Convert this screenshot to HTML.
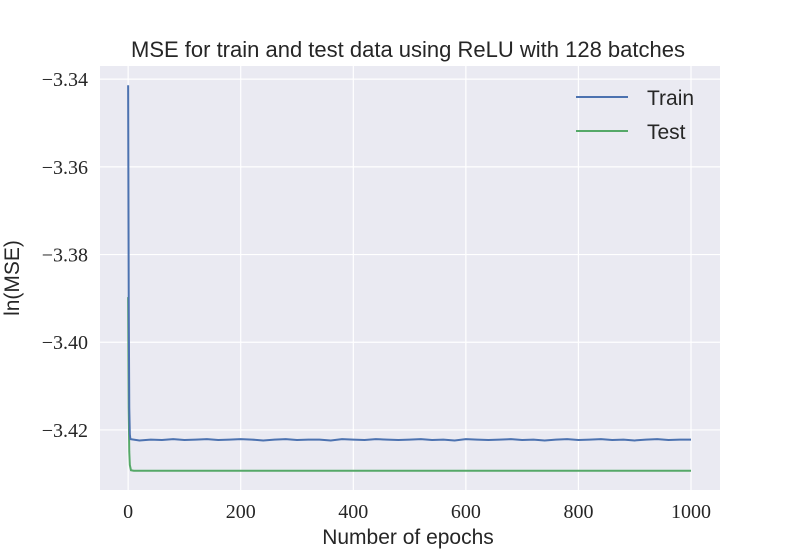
<!DOCTYPE html>
<html><head><meta charset="utf-8"><style>
body{margin:0;background:#fff;}
svg text{font-family:"Liberation Sans",sans-serif;}
.tick{font-family:"Liberation Serif",serif;font-size:20px;fill:#262626;}
</style></head><body>
<svg width="800" height="550" xmlns="http://www.w3.org/2000/svg">
<rect x="100" y="66" width="620" height="424" fill="#eaeaf2"/>
<g id="grid"></g>
<g id="series"></g>
<text x="408" y="57" text-anchor="middle" font-size="22" fill="#262626">MSE for train and test data using ReLU with 128 batches</text>
<text x="408" y="544" text-anchor="middle" font-size="21" fill="#262626">Number of epochs</text>
<text transform="translate(19,278) rotate(-90)" text-anchor="middle" font-size="21" fill="#262626">ln(MSE)</text>
<g>
<line x1="576" y1="97" x2="628" y2="97" stroke="#4c72b0" stroke-width="2"/>
<text x="647" y="105" font-size="21" fill="#262626">Train</text>
<line x1="576" y1="131" x2="628" y2="131" stroke="#55a868" stroke-width="2"/>
<text x="647" y="139" font-size="21" fill="#262626">Test</text>
</g>
</svg>
<script>
const xTicks=[0,200,400,600,800,1000];
const yTicks=[-3.34,-3.36,-3.38,-3.40,-3.42];
const yTickLabels=["\u22123.34","\u22123.36","\u22123.38","\u22123.40","\u22123.42"];
const trainEpochs=[0,1,2,3,4,20,40,60,80,100,120,140,160,180,200,220,240,260,280,300,320,340,360,380,400,420,440,460,480,500,520,540,560,580,600,620,640,660,680,700,720,740,760,780,800,820,840,860,880,900,920,940,960,980,1000];
const trainValues=[-3.3414,-3.39,-3.415,-3.421,-3.4221,-3.4224,-3.4222,-3.4223,-3.4221,-3.4223,-3.4222,-3.4221,-3.4223,-3.4222,-3.4221,-3.4222,-3.4224,-3.4222,-3.4221,-3.4223,-3.4222,-3.4222,-3.4224,-3.4221,-3.4222,-3.4223,-3.4221,-3.4222,-3.4223,-3.4222,-3.4221,-3.4223,-3.4222,-3.4224,-3.4221,-3.4222,-3.4223,-3.4222,-3.4221,-3.4223,-3.4222,-3.4224,-3.4222,-3.4221,-3.4223,-3.4222,-3.4221,-3.4223,-3.4222,-3.4224,-3.4222,-3.4221,-3.4223,-3.4222,-3.4222];
const testEpochs=[0,1,2,3,5,10,1000];
const testValues=[-3.3897,-3.415,-3.425,-3.428,-3.4292,-3.4293,-3.4293];
const NS="http://www.w3.org/2000/svg";
const L=100,R=720,T=66,B=490,xMin=-50,xMax=1051.5,yMin=-3.4337,yMax=-3.3370;
const sx=v=>L+(v-xMin)/(xMax-xMin)*(R-L);
const sy=v=>B-(v-yMin)/(yMax-yMin)*(B-T);
const grid=document.getElementById('grid'),series=document.getElementById('series'),svg=document.querySelector('svg');
function mk(t,a,p){const e=document.createElementNS(NS,t);for(const k in a)e.setAttribute(k,a[k]);p.appendChild(e);return e;}
xTicks.forEach(v=>{
 const l=mk('line',{x1:sx(v),x2:sx(v),y1:T,y2:B,stroke:'#fff','stroke-width':1.2},grid);
 
 
 const t=mk('text',{x:sx(v),y:B+28,'text-anchor':'middle',class:'tick'},svg);
 t.textContent=v;
 
 
});
yTicks.forEach((v,i)=>{
 const l=mk('line',{x1:L,x2:R,y1:sy(v),y2:sy(v),stroke:'#fff','stroke-width':1.2},grid);
 
 
 const t=mk('text',{x:L-12,y:sy(v)+7,'text-anchor':'end',class:'tick'},svg);
 t.textContent=yTickLabels[i];
 
 
});
function line(xs,ys,c,name){
 const d=xs.map((x,i)=>(i?'L':'M')+sx(x).toFixed(2)+','+sy(ys[i]).toFixed(2)).join('');
 const p=mk('path',{d:d,fill:'none',stroke:c,'stroke-width':2},series);
 
 
}
line(testEpochs,testValues,'#55a868','test-line');
line(trainEpochs,trainValues,'#4c72b0','train-line');
</script>
</body></html>
